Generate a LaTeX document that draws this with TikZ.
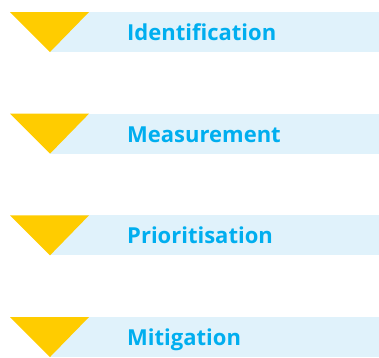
\documentclass[tikz,border=0pt]{standalone}
\usepackage{fontspec}
\setmainfont{Open Sans}
\definecolor{bandblue}{HTML}{E0F2FB}
\definecolor{textcyan}{HTML}{00AEEF}
\definecolor{tri}{HTML}{FFCC00}
\begin{document}
\begin{tikzpicture}[x=1pt,y=-1pt,
  band/.style={fill=bandblue,draw=none},
  marker/.style={fill=tri,draw=none},
  label/.style={anchor=base west,inner sep=0pt,text=textcyan,font=\fontsize{22}{24}\selectfont\bfseries}]
\useasboundingbox (0,0) rectangle (379,357);
\foreach \i/\t in {0/Identification,1/Measurement,2/Prioritisation,3/Mitigation}{
  \pgfmathsetmacro{\top}{12+\i*101.67}
  \fill[band] (50,\top) rectangle (379,\top+40);
  \fill[marker] (10,\top) -- (89,\top) -- (50,\top+40) -- cycle;
  \node[label] (n\i) at (127,\top+28.5) {\t};
}
\end{tikzpicture}
\end{document}
